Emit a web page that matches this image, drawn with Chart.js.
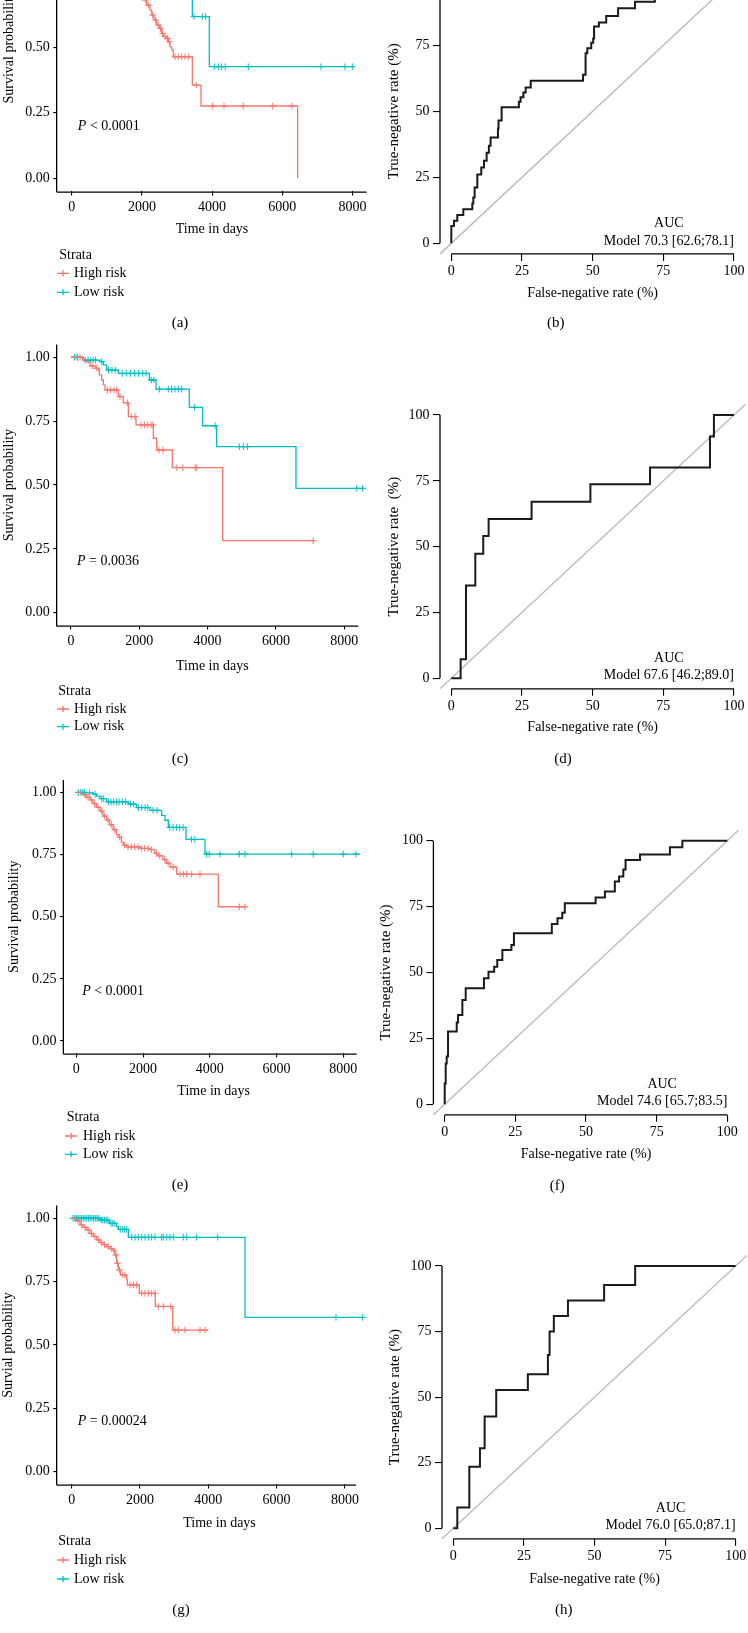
<!DOCTYPE html>
<html><head><meta charset="utf-8">
<script src="https://cdn.jsdelivr.net/npm/chart.js@4.4.1/dist/chart.umd.min.js"></script>
<style>
html,body{margin:0;padding:0;background:#fff;}
body{width:748px;height:1633px;position:relative;overflow:hidden;}
canvas{position:absolute;}
</style></head><body>
<canvas id="cA"></canvas><canvas id="cB"></canvas>
<canvas id="cC"></canvas><canvas id="cD"></canvas>
<canvas id="cE"></canvas><canvas id="cF"></canvas>
<canvas id="cG"></canvas><canvas id="cH"></canvas>
<script>
// ---------- DATA ----------
const kmTicksX = [0, 2000, 4000, 6000, 8000];
const kmLabelsX = ['0', '2000', '4000', '6000', '8000'];
const kmTicksY = [0, 0.25, 0.5, 0.75, 1];
const kmLabelsY = ['0.00', '0.25', '0.50', '0.75', '1.00'];
const rocTicks = [0, 25, 50, 75, 100];
const rocLabels = ['0', '25', '50', '75', '100'];
const strata = ['High risk', 'Low risk'];

// (a) [time, survival]
const kmA_high = [[0,1],[300,0.99],[600,0.97],[900,0.95],[1200,0.92],[1500,0.87],[1700,0.81],[1850,0.75],[1960,0.70],[2022,0.681],[2136,0.661],[2231,0.642],[2279,0.623],[2345,0.604],[2421,0.585],[2497,0.572],[2563,0.553],[2611,0.541],[2706,0.534],[2753,0.521],[2801,0.502],[2848,0.490],[2895,0.464],[3437,0.356],[3684,0.276],[6438,0]];
const kmA_highCens = [[1000,0.95],[1400,0.92],[1600,0.87],[1780,0.81],[2100,0.681],[2180,0.661],[2300,0.623],[2390,0.604],[2460,0.585],[2530,0.572],[2590,0.553],[2660,0.541],[2730,0.534],[2780,0.521],[2943,0.464],[3038,0.464],[3133,0.464],[3228,0.464],[3323,0.464],[3550,0.356],[4006,0.276],[4339,0.276],[4889,0.276],[5726,0.276],[6276,0.276]];
const kmA_low = [[0,1],[600,0.99],[1200,0.98],[1800,0.96],[2400,0.93],[2900,0.88],[3200,0.80],[3437,0.617],[3921,0.426],[8043,0.426]];
const kmA_lowCens = [[1000,0.99],[2000,0.96],[2700,0.93],[3484,0.617],[3721,0.617],[3817,0.617],[4063,0.426],[4177,0.426],[4273,0.426],[4376,0.426],[5031,0.426],[7103,0.426],[7787,0.426],[7995,0.426]];
const pValA = '< 0.0001';

// (c)
const kmC_high = [[0,1],[330,0.993],[410,0.983],[556,0.966],[703,0.957],[800,0.950],[829,0.931],[898,0.911],[947,0.892],[996,0.872],[1386,0.846],[1533,0.822],[1679,0.768],[1903,0.735],[2411,0.683],[2508,0.637],[2967,0.568],[4441,0.282],[7144,0.282]];
const kmC_highCens = [[195,1],[264,1],[620,0.966],[760,0.957],[1064,0.872],[1162,0.872],[1260,0.872],[1340,0.872],[1435,0.846],[1650,0.822],[1777,0.768],[1874,0.768],[2050,0.735],[2147,0.735],[2245,0.735],[2342,0.735],[2400,0.735],[2577,0.637],[2694,0.637],[3099,0.568],[3274,0.568],[3636,0.568],[3685,0.568],[7095,0.282]];
const kmC_low = [[0,1],[361,0.989],[849,0.983],[946,0.970],[1044,0.950],[1386,0.937],[2294,0.911],[2489,0.875],[3465,0.804],[3855,0.732],[4265,0.650],[6588,0.487],[8608,0.487]];
const kmC_lowCens = [[98,1],[176,1],[420,0.989],[500,0.989],[580,0.989],[650,0.989],[720,0.989],[900,0.983],[1100,0.95],[1200,0.95],[1300,0.95],[1500,0.937],[1620,0.937],[1740,0.937],[1860,0.937],[1980,0.937],[2100,0.937],[2200,0.937],[2350,0.911],[2430,0.911],[2586,0.875],[2850,0.875],[2948,0.875],[3045,0.875],[3143,0.875],[3240,0.875],[3620,0.804],[4220,0.732],[4929,0.650],[5046,0.650],[5163,0.650],[8365,0.487],[8541,0.487]];
const pValC = '= 0.0036';

// (e)
const kmE_high = [[0,1],[150,0.995],[211,0.99],[300,0.98],[410,0.97],[500,0.955],[600,0.94],[710,0.925],[800,0.905],[910,0.888],[1000,0.87],[1100,0.85],[1200,0.83],[1259,0.82],[1350,0.80],[1409,0.788],[1500,0.781],[1900,0.775],[2200,0.770],[2358,0.755],[2450,0.745],[2600,0.73],[2700,0.715],[2807,0.70],[3007,0.671],[4255,0.540],[5104,0.540]];
const kmE_highCens = [[260,0.99],[350,0.98],[450,0.97],[550,0.955],[650,0.94],[760,0.925],[850,0.905],[950,0.888],[1050,0.87],[1150,0.85],[1300,0.82],[1450,0.788],[1550,0.781],[1650,0.781],[1750,0.781],[1850,0.781],[1950,0.775],[2050,0.775],[2150,0.775],[2250,0.770],[2400,0.755],[2500,0.745],[2650,0.73],[2750,0.715],[2900,0.70],[3107,0.671],[3207,0.671],[3307,0.671],[3457,0.671],[3706,0.671],[4884,0.540],[5054,0.540]];
const kmE_low = [[0,1],[300,0.998],[510,0.993],[600,0.985],[710,0.975],[910,0.962],[1559,0.953],[1809,0.939],[2208,0.928],[2558,0.908],[2657,0.888],[2757,0.859],[3287,0.811],[3856,0.752],[8500,0.752]];
const kmE_lowCens = [[60,1],[120,1],[180,1],[240,1],[400,0.998],[560,0.993],[760,0.975],[820,0.975],[960,0.962],[1040,0.962],[1120,0.962],[1200,0.962],[1280,0.962],[1380,0.962],[1480,0.962],[1620,0.953],[1720,0.953],[1860,0.939],[1960,0.939],[2060,0.939],[2140,0.939],[2300,0.928],[2420,0.928],[2800,0.859],[2900,0.859],[3000,0.859],[3100,0.859],[3200,0.859],[3450,0.811],[3550,0.811],[3906,0.752],[3985,0.752],[4305,0.752],[4884,0.752],[5054,0.752],[6452,0.752],[7101,0.752],[7999,0.752],[8380,0.752]];
const pValE = '< 0.0001';

// (g)
const kmG_high = [[0,1],[120,0.99],[243,0.974],[340,0.964],[438,0.954],[530,0.94],[633,0.928],[730,0.915],[829,0.904],[920,0.896],[1024,0.888],[1120,0.88],[1219,0.872],[1268,0.855],[1317,0.822],[1366,0.796],[1434,0.776],[1610,0.757],[1629,0.737],[1980,0.704],[2449,0.652],[2956,0.559],[4000,0.559]];
const kmG_highCens = [[180,0.99],[290,0.974],[390,0.964],[480,0.954],[580,0.94],[680,0.928],[780,0.915],[870,0.904],[960,0.896],[1070,0.888],[1170,0.88],[1240,0.872],[1290,0.855],[1340,0.822],[1400,0.796],[1500,0.776],[1560,0.776],[1707,0.737],[1805,0.737],[1902,0.737],[2049,0.704],[2146,0.704],[2244,0.704],[2341,0.704],[2439,0.704],[2536,0.652],[2683,0.652],[2900,0.652],[3025,0.559],[3122,0.559],[3317,0.559],[3756,0.559],[3903,0.559]];
const kmG_low = [[0,1],[829,0.993],[1100,0.98],[1317,0.967],[1366,0.956],[1658,0.925],[5074,0.609],[8539,0.609]];
const kmG_lowCens = [[40,1],[90,1],[140,1],[190,1],[240,1],[290,1],[340,1],[390,1],[440,1],[490,1],[540,1],[590,1],[640,1],[690,1],[740,1],[790,1],[860,0.993],[910,0.993],[960,0.993],[1010,0.993],[1060,0.993],[1150,0.98],[1200,0.98],[1260,0.98],[1420,0.956],[1480,0.956],[1540,0.956],[1600,0.956],[1756,0.925],[1854,0.925],[1951,0.925],[2049,0.925],[2146,0.925],[2244,0.925],[2341,0.925],[2439,0.925],[2634,0.925],[2683,0.925],[2781,0.925],[2878,0.925],[2976,0.925],[3268,0.925],[3366,0.925],[3659,0.925],[4274,0.925],[7739,0.609],[8520,0.609]];
const pValG = '= 0.00024';

// ROC curves [false-negative rate %, true-negative rate %]
const rocB = [[0,0],[0,6.55],[0.94,8.57],[2.12,10.7],[4.24,12.9],[7.43,15.1],[7.78,17.4],[8.25,21.1],[9.2,26.1],[10.6,28.7],[11.56,31.3],[12.5,34.3],[13.3,37.0],[13.9,40.1],[16.5,43.5],[16.7,46.5],[17.8,51.5],[23.9,53.6],[24.5,55.3],[25.5,57.1],[26.3,59.0],[28.1,61.6],[46.6,63.8],[47.5,72.0],[48.1,73.9],[49.5,76.0],[50.2,77.6],[50.5,82.1],[52.2,83.6],[54.8,86.1],[59.0,89.0],[65.0,91.5],[72.0,94.0],[78.0,97.0],[84.0,100],[100,100]];
const rocD = [[0,0],[3.3,7.2],[5.19,35.2],[8.49,47.3],[11.3,54.0],[13.2,60.5],[28.4,67.1],[49.2,73.7],[70.3,80.1],[91.5,91.8],[92.9,100],[100,100]];
const rocF = [[0,0],[0,7.9],[0.35,15.5],[0.71,18.1],[1.18,27.6],[4.25,31.0],[4.72,33.9],[6.25,39.6],[7.43,44.0],[13.9,47.8],[15.5,50.3],[17.5,52.2],[18.6,54.7],[20.4,58.5],[23.6,60.4],[24.5,64.9],[37.9,68.4],[39.9,70.6],[41.6,72.7],[42.5,76.3],[53.4,78.5],[56.7,80.7],[60.2,84.5],[61.7,86.4],[63.2,89.1],[64.0,92.7],[69.1,94.8],[79.7,97.5],[84.1,100],[100,100]];
const rocH = [[0,0],[1.42,7.9],[5.67,23.5],[9.44,30.5],[11.1,42.6],[15.2,52.7],[26.4,58.7],[33.5,66.1],[34.1,75.0],[35.6,80.9],[40.6,86.8],[53.4,92.8],[64.4,100],[100,100]];
const rocDiag = [[-4,-4],[104,104]];
const aucB = 'Model 70.3 [62.6;78.1]';
const aucD = 'Model 67.6 [46.2;89.0]';
const aucF = 'Model 74.6 [65.7;83.5]';
const aucH = 'Model 76.0 [65.0;87.1]';

// ---------- LAYOUT / STYLE ----------
const FONT = '"Liberation Serif", "Times New Roman", serif';
const RED = '#F8766D', CYAN = '#00BFC4', INK = '#000000';

const PANELS = [
  {id:'cA', kind:'km', box:{L:0,T:-110,W:374,H:445}, area:{l:57.3,t:-96.8,r:366.7,b:191.4}, xMin:-410, xMax:8405,
   xTitleY:229, yTitleX:9, yTitle:'Survival probability', high:kmA_high, highCens:kmA_highCens, low:kmA_low, lowCens:kmA_lowCens,
   pText:pValA, label:'(a)', labelX:180, labelY:322.7, legend:{x:59.3,y0:255,y1:273.3,y2:292.3,s0:57,s1:69,tx:74}},
  {id:'cB', kind:'roc', box:{L:374,T:-110,W:374,H:445}, area:{l:440,t:-31.3,r:745.3,b:253.9},
   xTitleY:293.3, yTitleX:394, yTitle:'True-negative rate (%)', roc:rocB, auc:aucB, label:'(b)', labelX:555.7, labelY:322.7},
  {id:'cC', kind:'km', box:{L:0,T:335,W:374,H:440}, area:{l:57.3,t:344.5,r:358.3,b:625.5}, xMin:-401, xMax:8413, xExt:8680,
   xTitleY:666, yTitleX:9, yTitle:'Survival probability', high:kmC_high, highCens:kmC_highCens, low:kmC_low, lowCens:kmC_lowCens,
   pText:pValC, label:'(c)', labelX:180, labelY:759.3, legend:{x:58.3,y0:691,y1:709,y2:726.7,s0:57,s1:69,tx:74}},
  {id:'cD', kind:'roc', box:{L:374,T:335,W:374,H:440}, area:{l:440,t:404.5,r:745.3,b:688.8},
   xTitleY:727.6, yTitleX:394.5, yTitle:'True-negative rate  (%)', roc:rocD, auc:aucD, label:'(d)', labelX:563, labelY:759.3},
  {id:'cE', kind:'km', box:{L:0,T:775,W:374,H:420}, area:{l:64,t:779.9,r:356.7,b:1053.4}, xMin:-369, xMax:8402, xExt:8600,
   xTitleY:1091.7, yTitleX:14.5, yTitle:'Survival probability', high:kmE_high, highCens:kmE_highCens, low:kmE_low, lowCens:kmE_lowCens,
   pText:pValE, label:'(e)', labelX:180, labelY:1185, legend:{x:66.7,y0:1117.7,y1:1136,y2:1154.3,s0:65,s1:77,tx:83}},
  {id:'cF', kind:'roc', box:{L:374,T:775,W:374,H:420}, area:{l:433.4,t:830.2,r:738.6,b:1114.8},
   xTitleY:1154, yTitleX:386.5, yTitle:'True-negative rate (%)', roc:rocF, auc:aucF, label:'(f)', labelX:557.3, labelY:1186},
  {id:'cG', kind:'km', box:{L:0,T:1195,W:374,H:438}, area:{l:57.3,t:1205.6,r:356,b:1484.4}, xMin:-422, xMax:8325, xExt:8680,
   xTitleY:1523.3, xTitleX:219.5, yTitleX:8.5, yTitle:'Survial probability', high:kmG_high, highCens:kmG_highCens, low:kmG_low, lowCens:kmG_lowCens,
   pText:pValG, label:'(g)', labelX:181, labelY:1610, legend:{x:58.3,y0:1541,y1:1560,y2:1579,s0:57,s1:69,tx:74}},
  {id:'cH', kind:'roc', box:{L:374,T:1195,W:374,H:438}, area:{l:442,t:1255.5,r:747,b:1538.8},
   xTitleY:1579.3, yTitleX:395, yTitle:'True-negative rate (%)', roc:rocH, auc:aucH, label:'(h)', labelX:563.8, labelY:1610}
];

function pts(a) { return a.map(p => ({x: p[0], y: p[1]})); }

function drawExtras(chart, p) {
  const ctx = chart.ctx, L = p.box.L, T = p.box.T;
  const xs = chart.scales.x, ys = chart.scales.y, ca = chart.chartArea;
  ctx.save();
  ctx.fillStyle = INK;
  ctx.textBaseline = 'middle';
  ctx.font = '15px ' + FONT;
  ctx.textAlign = 'center';
  ctx.fillText(p.label, p.labelX - L, p.labelY - T);
  ctx.strokeStyle = INK; ctx.lineWidth = 1.3;
  if (p.kind === 'km') {
    // axis lines (x axis ends at panel edge, data may run past it)
    ctx.beginPath();
    ctx.moveTo(ca.left - 0.65, ca.bottom + 0.65); ctx.lineTo(xs.getPixelForValue(p.xMax), ca.bottom + 0.65);
    ctx.moveTo(ca.left - 0.65, ca.bottom + 0.65); ctx.lineTo(ca.left - 0.65, ca.top);
    ctx.stroke();
    const px = xs.getPixelForValue(175), py = ys.getPixelForValue(0.2);
    ctx.textAlign = 'left';
    ctx.font = 'italic 14px ' + FONT;
    ctx.fillText('P', px, py);
    const w = ctx.measureText('P').width;
    ctx.font = '14px ' + FONT;
    ctx.fillText(' ' + p.pText, px + w, py);
    if (p.xTitleX) {
      ctx.textAlign = 'center';
      ctx.fillText('Time in days', p.xTitleX - L, p.xTitleY - T);
    }
    const lg = p.legend;
    ctx.textAlign = 'left';
    ctx.fillText('Strata', lg.x - L, lg.y0 - T);
    [[RED, strata[0], lg.y1], [CYAN, strata[1], lg.y2]].forEach(([c, t, y]) => {
      ctx.strokeStyle = c; ctx.lineWidth = 1.3;
      ctx.beginPath();
      ctx.moveTo(lg.s0 - L, y - T); ctx.lineTo(lg.s1 - L, y - T);
      const cx = (lg.s0 + lg.s1) / 2 - L;
      ctx.moveTo(cx, y - T - 3); ctx.lineTo(cx, y - T + 3);
      ctx.stroke();
      ctx.fillStyle = INK;
      ctx.fillText(t, lg.tx - L, y - T);
    });
  } else {
    ctx.beginPath();
    ctx.moveTo(xs.getPixelForValue(0), ca.bottom); ctx.lineTo(xs.getPixelForValue(100), ca.bottom);
    ctx.moveTo(ca.left, ys.getPixelForValue(0)); ctx.lineTo(ca.left, ys.getPixelForValue(100));
    ctx.stroke();
    ctx.font = '14px ' + FONT;
    const rx = xs.getPixelForValue(100), y0 = ys.getPixelForValue(0);
    const w = ctx.measureText(p.auc).width;
    ctx.textAlign = 'right';
    ctx.fillText(p.auc, rx, y0 - 2.5);
    ctx.textAlign = 'center';
    ctx.fillText('AUC', rx - w / 2, y0 - 19.8);
  }
  ctx.restore();
}

function makeChart(p) {
  const cv = document.getElementById(p.id);
  const {L, T, W, H} = p.box, a = p.area;
  cv.width = W; cv.height = H;
  cv.style.left = L + 'px'; cv.style.top = T + 'px';
  cv.style.width = W + 'px'; cv.style.height = H + 'px';
  const isKM = p.kind === 'km';
  const yTitleSize = isKM ? 14 : 15;
  const xLH = 14 * 1.2, yLH = yTitleSize * 1.2;
  const xh = p.xTitleY + xLH / 2 - a.b;
  const yw = a.l - L;
  const tickLen = isKM ? 4 : 7;
  // KM panels may extend the scale past the axis end so late censor marks stay visible
  let xMin = -4, xMax = 104, right = a.r;
  if (isKM) {
    xMin = p.xMin; xMax = p.xExt || p.xMax;
    right = a.r + (xMax - p.xMax) * (a.r - a.l) / (p.xMax - p.xMin);
  }
  const noPad = s => { s.paddingLeft = 0; s.paddingRight = 0; s.paddingTop = 0; s.paddingBottom = 0; };
  let datasets;
  if (isKM) {
    datasets = [
      {data: pts(p.high), showLine: true, stepped: 'before', borderColor: RED, borderWidth: 1.3, pointRadius: 0, clip: false},
      {data: pts(p.low), showLine: true, stepped: 'before', borderColor: CYAN, borderWidth: 1.3, pointRadius: 0, clip: false},
      {data: pts(p.highCens), showLine: false, pointStyle: 'cross', pointRadius: 3.3, pointBorderColor: RED, pointBorderWidth: 1, borderColor: RED, clip: false},
      {data: pts(p.lowCens), showLine: false, pointStyle: 'cross', pointRadius: 3.3, pointBorderColor: CYAN, pointBorderWidth: 1, borderColor: CYAN, clip: false}
    ];
  } else {
    datasets = [
      {data: pts(p.roc), showLine: true, stepped: 'before', borderColor: '#1a1a1a', borderWidth: 2, pointRadius: 0, clip: false},
      {data: pts(rocDiag), showLine: true, borderColor: '#BEBEBE', borderWidth: 1.5, pointRadius: 0, clip: false}
    ];
  }
  const xTicks = isKM ? kmTicksX : rocTicks, xLabels = isKM ? kmLabelsX : rocLabels;
  const yTicks = isKM ? kmTicksY : rocTicks, yLabels = isKM ? kmLabelsY : rocLabels;
  new Chart(cv, {
    type: 'scatter',
    data: {datasets},
    options: {
      responsive: false, animation: false, devicePixelRatio: 1, events: [],
      layout: {padding: {left: 0, top: a.t - T, right: L + W - right, bottom: T + H - (a.b + xh)}},
      plugins: {legend: {display: false}, tooltip: {enabled: false}},
      scales: {
        x: {
          type: 'linear', position: 'bottom', min: xMin, max: xMax,
          border: {display: false},
          grid: {display: true, drawOnChartArea: false, drawTicks: true, tickLength: tickLen, color: INK, lineWidth: 1.1},
          ticks: {padding: isKM ? 3.5 : 2, color: INK, font: {family: FONT, size: 14}, autoSkip: false, maxRotation: 0, minRotation: 0,
                  callback: (v, i) => xLabels[i]},
          afterBuildTicks: s => { s.ticks = xTicks.map(v => ({value: v})); },
          afterFit: s => { s.height = xh; noPad(s); },
          title: {display: !p.xTitleX, text: isKM ? 'Time in days' : 'False-negative rate (%)', color: INK,
                  font: {family: FONT, size: 14, lineHeight: 1.2}, padding: {top: 0, bottom: 0}}
        },
        y: {
          type: 'linear', position: 'left',
          min: isKM ? -0.05 : -4, max: isKM ? 1.05 : 104,
          border: {display: false},
          grid: {display: true, drawOnChartArea: false, drawTicks: true, tickLength: tickLen, color: INK, lineWidth: 1.1},
          ticks: {padding: 3.5, color: INK, font: {family: FONT, size: 14}, autoSkip: false,
                  callback: (v, i) => yLabels[i]},
          afterBuildTicks: s => { s.ticks = yTicks.map(v => ({value: v})); },
          afterFit: s => { s.width = yw; noPad(s); },
          title: {display: true, text: p.yTitle, color: INK,
                  font: {family: FONT, size: yTitleSize, lineHeight: 1.2}, padding: {top: p.yTitleX - L - yLH / 2, bottom: 0}}
        }
      }
    },
    plugins: [{id: 'extras' + p.id, afterDraw(chart) { drawExtras(chart, p); }}]
  });
}

PANELS.forEach(makeChart);
</script>
</body></html>
